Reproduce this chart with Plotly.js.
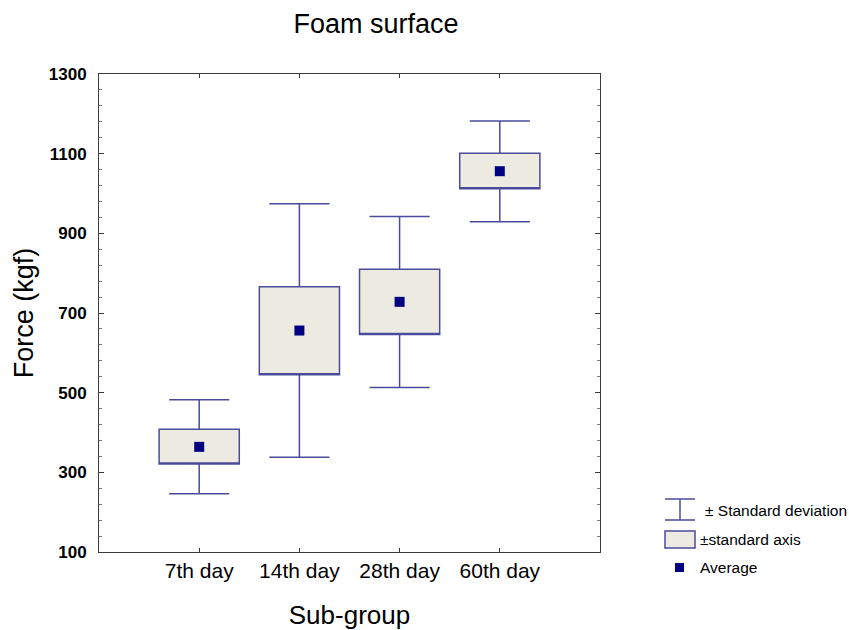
<!DOCTYPE html>
<html>
<head>
<meta charset="utf-8">
<script src="https://cdn.plot.ly/plotly-3.0.1.min.js"></script>
<style>html,body{margin:0;padding:0;background:#fff;}</style>
</head>
<body>
<div id="chart" style="width:849px;height:630px;"></div>
<script>
// Data
var categories = ["7th day", "14th day", "28th day", "60th day"];
var average    = [364, 656, 728, 1056];
var boxLow     = [321, 545, 646, 1012];   // average - standard error
var boxHigh    = [408, 766, 810, 1101];   // average + standard error
var sdLow      = [246, 338, 513, 929];    // average - standard deviation
var sdHigh     = [482, 974, 942, 1182];   // average + standard deviation
var yTicks     = [100, 300, 500, 700, 900, 1100, 1300];

var lineBlue = '#4b4b9c';
var boxFill = '#edebe1';
var navy = '#000080';

var traces = [
  {
    type: 'box',
    x: categories,
    q1: boxLow,
    median: boxLow,
    q3: boxHigh,
    lowerfence: sdLow,
    upperfence: sdHigh,
    width: 0.8,
    whiskerwidth: 0.75,
    fillcolor: boxFill,
    line: {color: lineBlue, width: 1.5},
    boxpoints: false,
    hoverinfo: 'skip',
    showlegend: false
  },
  {
    type: 'scatter',
    mode: 'markers',
    x: categories,
    y: average,
    marker: {symbol: 'square', size: 10, color: navy},
    showlegend: false
  }
];

var axisColor = '#3a3a3a';
var layout = {
  width: 849,
  height: 630,
  margin: {l: 99, r: 249, t: 74, b: 78},
  paper_bgcolor: '#ffffff',
  plot_bgcolor: '#ffffff',
  font: {family: 'Arial, Liberation Sans, sans-serif', color: '#000'},
  title: {
    text: 'Foam surface',
    font: {size: 27, color: '#000'},
    x: 376 / 849, xanchor: 'center',
    xref: 'container',
    y: 1 - 24 / 630, yref: 'container', yanchor: 'middle'
  },
  xaxis: {
    type: 'category',
    range: [-1, 4],
    showgrid: false,
    zeroline: false,
    showline: true,
    linecolor: axisColor,
    linewidth: 1,
    mirror: 'ticks',
    ticks: 'inside',
    ticklen: 4,
    tickcolor: axisColor,
    tickfont: {size: 21, color: '#000'},
    ticklabelstandoff: 0,
    title: {text: 'Sub-group', font: {size: 26, color: '#000'}, standoff: 25},
    fixedrange: true
  },
  yaxis: {
    range: [100, 1300],
    tickvals: yTicks,
    ticktext: yTicks.map(String),
    showgrid: false,
    zeroline: false,
    showline: true,
    linecolor: axisColor,
    linewidth: 1,
    mirror: 'ticks',
    ticks: 'inside',
    ticklen: 5,
    tickcolor: axisColor,
    minor: {tick0: 100, dtick: 40, ticks: 'inside', ticklen: 3, tickcolor: '#777', showgrid: false},
    tickfont: {size: 17, color: '#000', family: 'Arial, Liberation Sans, sans-serif', weight: 'bold'},
    ticklabelstandoff: 8,
    title: {text: 'Force (kgf)', font: {size: 27, color: '#000'}, standoff: 7},
    fixedrange: true
  },
  showlegend: false,
  shapes: [
    // legend: standard deviation icon
    {type: 'line', xref: 'paper', yref: 'paper', x0: (665-99)/501, x1: (695-99)/501, y0: (630-78-499)/478, y1: (630-78-499)/478, line: {color: lineBlue, width: 1.5}},
    {type: 'line', xref: 'paper', yref: 'paper', x0: (680-99)/501, x1: (680-99)/501, y0: (630-78-499)/478, y1: (630-78-520)/478, line: {color: lineBlue, width: 1.5}},
    {type: 'line', xref: 'paper', yref: 'paper', x0: (665-99)/501, x1: (695-99)/501, y0: (630-78-520)/478, y1: (630-78-520)/478, line: {color: lineBlue, width: 1.5}},
    // legend: box icon
    {type: 'rect', xref: 'paper', yref: 'paper', x0: (665-99)/501, x1: (695-99)/501, y0: (630-78-531)/478, y1: (630-78-548)/478, fillcolor: boxFill, line: {color: lineBlue, width: 1.5}},
    // legend: average icon
    {type: 'rect', xref: 'paper', yref: 'paper', x0: (675-99)/501, x1: (684-99)/501, y0: (630-78-563)/478, y1: (630-78-572)/478, fillcolor: navy, line: {width: 0}}
  ],
  annotations: [
    {text: '± Standard deviation', xref: 'paper', yref: 'paper', x: (703-99)/501, y: (630-78-510)/478, xanchor: 'left', yanchor: 'middle', showarrow: false, font: {size: 15.5, color: '#000'}},
    {text: '±standard axis', xref: 'paper', yref: 'paper', x: (698-99)/501, y: (630-78-539)/478, xanchor: 'left', yanchor: 'middle', showarrow: false, font: {size: 15.5, color: '#000'}},
    {text: 'Average', xref: 'paper', yref: 'paper', x: (698-99)/501, y: (630-78-567)/478, xanchor: 'left', yanchor: 'middle', showarrow: false, font: {size: 15.5, color: '#000'}}
  ]
};

Plotly.newPlot('chart', traces, layout, {displayModeBar: false, staticPlot: true});
</script>
</body>
</html>
